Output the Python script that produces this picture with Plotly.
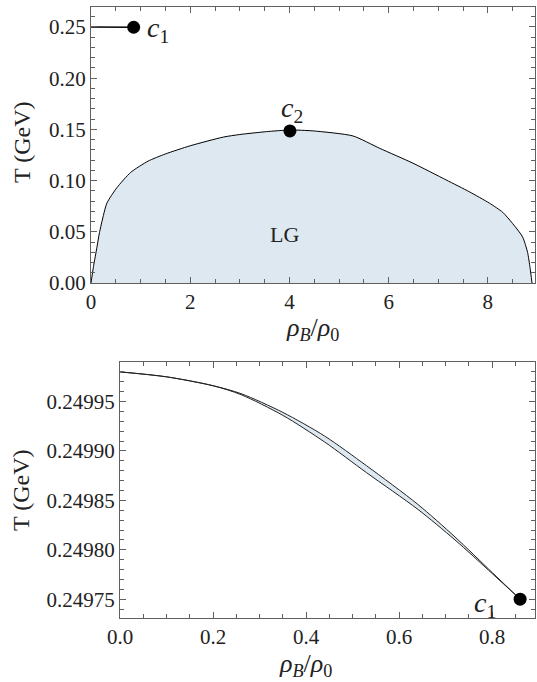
import plotly.graph_objects as go

# Liquid-gas (LG) phase boundary: baryon density ratio vs temperature
rho_lg = [0, 0.05, 0.12, 0.17, 0.25, 0.32, 0.52, 0.8, 1.15, 1.5, 2.0, 2.67,
          3.0, 3.54, 4.01, 4.48, 5.28, 5.82, 6.49, 7.16, 7.63, 8.03, 8.3,
          8.5, 8.7, 8.8, 8.85, 8.89]
T_lg = [0, 0.016, 0.035, 0.049, 0.066, 0.078, 0.093, 0.108, 0.119, 0.126,
        0.134, 0.1425, 0.145, 0.1478, 0.1494, 0.1485, 0.1436, 0.1315, 0.117,
        0.1006, 0.089, 0.078, 0.069, 0.058, 0.045, 0.030, 0.015, 0]

# High-temperature branch ending at critical point c1 (two boundary curves)
rho_hi = [0, 0.1, 0.2, 0.26, 0.35, 0.44, 0.53, 0.64, 0.72, 0.80, 0.86]
T_hi_upper = [0.249980, 0.249975, 0.249966, 0.249958, 0.249939, 0.249915,
              0.249885, 0.249846, 0.249813, 0.249777, 0.249750]
T_hi_lower = [0.249980, 0.249975, 0.249966, 0.249957, 0.249936, 0.249909,
              0.249878, 0.249841, 0.249810, 0.249776, 0.249750]

# Critical points
c1 = (0.86, 0.24975)
c2 = (4.01, 0.1485)

FILL = "#dde8f1"
FRAME = "#606060"
INK = "#222222"
FONT = "Liberation Serif, Times New Roman, serif"
W, H = 537, 682

fig = go.Figure()

# Top panel
fig.add_trace(go.Scatter(x=rho_lg, y=T_lg, mode="lines", fill="tozeroy",
                         fillcolor=FILL,
                         line=dict(color="black", width=1, shape="spline",
                                   smoothing=0.6),
                         xaxis="x", yaxis="y", showlegend=False))
fig.add_trace(go.Scatter(x=rho_hi, y=T_hi_upper, mode="lines",
                         line=dict(color="black", width=1.6),
                         xaxis="x", yaxis="y", showlegend=False))
fig.add_trace(go.Scatter(x=[c1[0], c2[0]], y=[c1[1], c2[1]], mode="markers",
                         marker=dict(color="black", size=13),
                         xaxis="x", yaxis="y", showlegend=False))

# Bottom panel (zoom of the c1 branch)
fig.add_trace(go.Scatter(x=rho_hi, y=T_hi_lower, mode="lines",
                         line=dict(color=INK, width=1, shape="spline",
                                   smoothing=0.8),
                         xaxis="x2", yaxis="y2", showlegend=False))
fig.add_trace(go.Scatter(x=rho_hi, y=T_hi_upper, mode="lines", fill="tonexty",
                         fillcolor=FILL,
                         line=dict(color=INK, width=1, shape="spline",
                                   smoothing=0.8),
                         xaxis="x2", yaxis="y2", showlegend=False))
fig.add_trace(go.Scatter(x=[c1[0]], y=[c1[1]], mode="markers",
                         marker=dict(color="black", size=13),
                         xaxis="x2", yaxis="y2", showlegend=False))


def frame_axis(**kw):
    base = dict(showline=True, linecolor=FRAME, linewidth=1.3,
                mirror="allticks", ticks="inside", ticklen=6,
                tickcolor=FRAME, tickwidth=1, showgrid=False, zeroline=False,
                automargin=False,
                tickfont=dict(family=FONT, size=21, color=INK))
    base.update(kw)
    return base


def minor(d):
    return dict(dtick=d, ticks="inside", ticklen=3.5, tickcolor=FRAME,
                showgrid=False)


fig.update_layout(
    template="none",
    width=W, height=H, margin=dict(l=0, r=0, t=0, b=0),
    paper_bgcolor="white", plot_bgcolor="white",
    xaxis=frame_axis(domain=[91 / W, 535 / W], range=[0, 8.95],
                     tick0=0, dtick=2, minor=minor(0.5), anchor="y"),
    yaxis=frame_axis(domain=[1 - 283 / H, 1 - 7 / H], range=[0, 0.2695],
                     tick0=0, dtick=0.05, tickformat=".2f", minor=minor(0.01),
                     anchor="x"),
    xaxis2=frame_axis(domain=[120 / W, 535 / W], range=[0, 0.892],
                      tick0=0, dtick=0.2, tickformat=".1f", minor=minor(0.05),
                      anchor="y2"),
    yaxis2=frame_axis(domain=[1 - 618 / H, 1 - 362 / H],
                      range=[0.249731, 0.24999],
                      tick0=0.24975, dtick=0.00005, tickformat=".5f",
                      minor=minor(0.00001), anchor="x2"),
)

rho_title = "<i>ρ</i><sub><i>B</i></sub>/<i>ρ</i><sub>0</sub>"
paper_notes = [
    # axis titles, placed by pixel position on the page
    (312, 329, rho_title, 26, 0),
    (305, 665, rho_title, 26, 0),
    (22, 142, "T (GeV)", 24, -90),
    (21, 490, "T (GeV)", 24, -90),
]
for px, py, txt, size, ang in paper_notes:
    fig.add_annotation(x=px / W, y=1 - py / H, xref="paper", yref="paper",
                       text=txt, showarrow=False, textangle=ang,
                       xanchor="center", yanchor="middle",
                       font=dict(family=FONT, size=size, color=INK))

fig.add_annotation(x=1.35, y=0.2475, xref="x", yref="y", showarrow=False,
                   text="<i>c</i><sub>1</sub>",
                   font=dict(family=FONT, size=28, color=INK))
fig.add_annotation(x=4.05, y=0.169, xref="x", yref="y", showarrow=False,
                   text="<i>c</i><sub>2</sub>",
                   font=dict(family=FONT, size=28, color=INK))
fig.add_annotation(x=3.9, y=0.047, xref="x", yref="y", showarrow=False,
                   text="LG", font=dict(family=FONT, size=22, color=INK))
fig.add_annotation(x=0.785, y=0.249745, xref="x2", yref="y2", showarrow=False,
                   text="<i>c</i><sub>1</sub>",
                   font=dict(family=FONT, size=28, color=INK))

fig.write_html("out.html")
